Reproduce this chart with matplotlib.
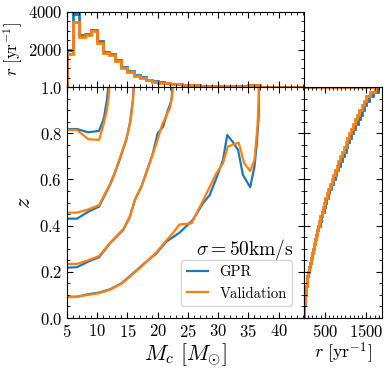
import numpy as np
import matplotlib
matplotlib.use("Agg")
import matplotlib.pyplot as plt
from matplotlib.ticker import AutoMinorLocator, MultipleLocator

plt.rcParams['font.family'] = 'serif'
plt.rcParams['font.serif'] = ['cmr10']
plt.rcParams['mathtext.fontset'] = 'cm'
plt.rcParams['axes.formatter.use_mathtext'] = True

# top histogram: rate per chirp-mass bin
mc_edges = np.arange(5, 45, 1)
r_mc_gpr = [1950, 3900, 2800, 2850, 3050, 2450, 1880, 1780, 1460, 1080,
            830, 660, 520, 390, 320, 260, 220, 180, 150, 120,
            100, 90, 80, 70, 65, 60, 55, 50, 50, 60,
            120, 120, 0, 0, 0, 0, 0, 0, 0]
r_mc_val = [1750, 3450, 2650, 2750, 3000, 2350, 1830, 1720, 1410, 1020,
            780, 610, 480, 350, 290, 240, 200, 170, 140, 115,
            95, 85, 75, 70, 60, 55, 55, 50, 45, 55,
            110, 115, 0, 0, 0, 0, 0, 0, 0]

# right histogram: cumulative rate per redshift bin
z_edges = np.linspace(0, 1, 51)
r_z_val = [2, 6, 12, 20, 30, 40, 52, 65, 80, 98,
           118, 140, 162, 185, 208, 232, 256, 280, 306, 334,
           362, 392, 422, 452, 484, 518, 552, 588, 626, 666,
           706, 746, 788, 830, 872, 914, 958, 1002, 1046, 1092,
           1138, 1186, 1234, 1284, 1334, 1386, 1440, 1500, 1600, 1720]
r_z_gpr = [2, 6, 12, 20, 31, 42, 54, 68, 84, 102,
           123, 146, 169, 193, 217, 242, 267, 293, 320, 349,
           378, 409, 440, 472, 505, 540, 576, 614, 654, 695,
           737, 779, 822, 866, 910, 955, 1001, 1047, 1094, 1142,
           1191, 1241, 1292, 1344, 1397, 1451, 1506, 1565, 1665, 1790]

# contour lines (Mc, z) -- GPR
gpr_c1_mc = [5, 6.65, 8.5, 10.3, 11.1, 11.6, 11.75, 11.8]
gpr_c1_z = [0.818, 0.818, 0.804, 0.81, 0.864, 0.944, 0.98, 1.0]
gpr_c2_mc = [5, 6.65, 8.5, 10.3, 12.1, 12.9, 13.7, 14.8, 15.4, 15.9, 16.0]
gpr_c2_z = [0.43, 0.43, 0.46, 0.482, 0.576, 0.626, 0.684, 0.77, 0.843, 0.944, 1.0]
gpr_c3_mc = [5, 6.65, 8.5, 10.3, 12.1, 14.3, 15.4, 16.2, 17.3, 18.1, 19.2, 20.0,
             20.9, 21.7, 22.3, 22.4]
gpr_c3_z = [0.218, 0.22, 0.244, 0.263, 0.323, 0.381, 0.438, 0.51, 0.568, 0.626,
            0.713, 0.8, 0.828, 0.9, 0.944, 1.0]
gpr_c4_mc = [5, 6.65, 8.5, 10.3, 12.1, 14.0, 15.9, 17.8, 19.8, 21.4, 23.6, 25.8,
             27.5, 28.6, 29.7, 30.8, 31.5, 32.4, 33.3, 34.1, 35.3, 36.0, 36.4,
             36.7, 36.75, 36.75]
gpr_c4_z = [0.092, 0.092, 0.103, 0.11, 0.124, 0.15, 0.193, 0.237, 0.28, 0.33,
            0.369, 0.424, 0.497, 0.532, 0.605, 0.684, 0.792, 0.763, 0.727, 0.619,
            0.566, 0.655, 0.756, 0.871, 0.944, 1.0]

# contour lines (Mc, z) -- Validation
val_c1_mc = [5, 6.65, 8.5, 10.3, 11.1, 11.6, 11.9, 12.0]
val_c1_z = [0.814, 0.814, 0.774, 0.771, 0.843, 0.9, 0.96, 1.0]
val_c2_mc = [5, 6.65, 8.5, 10.3, 12.1, 12.9, 13.7, 14.8, 15.5, 15.95, 16.05]
val_c2_z = [0.456, 0.456, 0.47, 0.488, 0.58, 0.63, 0.69, 0.775, 0.85, 0.95, 1.0]
val_c3_mc = [5, 6.65, 8.5, 10.3, 12.1, 14.3, 15.4, 16.3, 17.3, 18.1, 19.2, 19.8,
             20.7, 22.0, 22.4, 22.5]
val_c3_z = [0.234, 0.234, 0.25, 0.268, 0.325, 0.385, 0.44, 0.515, 0.57, 0.63,
            0.71, 0.756, 0.835, 0.908, 0.96, 1.0]
val_c4_mc = [5, 6.65, 8.5, 10.3, 12.1, 14.0, 15.9, 17.8, 19.8, 21.4, 22.5, 23.6,
             25.6, 27.8, 29.7, 30.8, 31.6, 33.4, 34.3, 35.3, 36.0, 36.5, 36.7, 36.75]
val_c4_z = [0.09, 0.092, 0.1, 0.108, 0.122, 0.148, 0.19, 0.235, 0.285, 0.335,
            0.367, 0.405, 0.41, 0.525, 0.626, 0.67, 0.742, 0.759, 0.67, 0.636,
            0.684, 0.828, 0.944, 1.0]

gpr_lines = [(gpr_c1_mc, gpr_c1_z), (gpr_c2_mc, gpr_c2_z),
             (gpr_c3_mc, gpr_c3_z), (gpr_c4_mc, gpr_c4_z)]
val_lines = [(val_c1_mc, val_c1_z), (val_c2_mc, val_c2_z),
             (val_c3_mc, val_c3_z), (val_c4_mc, val_c4_z)]

c_gpr = '#1f77b4'
c_val = '#ff7f0e'

fig = plt.figure(figsize=(3.9, 3.7), dpi=100)
gs = fig.add_gridspec(2, 2, width_ratios=[237, 78], height_ratios=[75, 231],
                      left=67/390, right=382/390, bottom=1-318/370, top=1-12/370,
                      wspace=0, hspace=0)
ax_top = fig.add_subplot(gs[0, 0])
ax = fig.add_subplot(gs[1, 0], sharex=ax_top)
ax_r = fig.add_subplot(gs[1, 1], sharey=ax)

# main panel
for i, (x, y) in enumerate(gpr_lines):
    ax.plot(x, y, color=c_gpr, lw=1.6, label='GPR' if i == 0 else None)
for i, (x, y) in enumerate(val_lines):
    ax.plot(x, y, color=c_val, lw=1.6, label='Validation' if i == 0 else None)
ax.set_xlim(5, 44.2)
ax.set_ylim(0, 1)
ax.set_xticks(np.arange(5, 45, 5))
ax.set_yticks(np.arange(0, 1.01, 0.2))
ax.xaxis.set_minor_locator(MultipleLocator(1))
ax.yaxis.set_minor_locator(MultipleLocator(0.05))
ax.set_xlabel(r'$M_c\ [M_{\odot}]$', fontsize=16, labelpad=1)
ax.set_ylabel(r'$z$', fontsize=16)
ax.legend(loc='lower right', fontsize=10.5, handlelength=1.4, borderaxespad=0.8)
ax.text(0.75, 0.295, r'$\sigma = 50 \mathrm{km/s}$', transform=ax.transAxes,
        ha='center', va='center', fontsize=14)

# top histogram
ax_top.stairs(r_mc_gpr, mc_edges, color=c_gpr, lw=2, baseline=0)
ax_top.stairs(r_mc_val, mc_edges, color=c_val, lw=2, baseline=0)
ax_top.set_ylim(0, 4000)
ax_top.set_yticks([2000, 4000])
ax_top.yaxis.set_minor_locator(AutoMinorLocator(4))
ax_top.set_ylabel(r'$r\ [\mathrm{yr}^{-1}]$', fontsize=12, labelpad=2)
ax_top.tick_params(labelbottom=False)

# right histogram
ax_r.stairs(r_z_gpr, z_edges, orientation='horizontal', color=c_gpr, lw=2, baseline=0)
ax_r.stairs(r_z_val, z_edges, orientation='horizontal', color=c_val, lw=2, baseline=0)
ax_r.set_xlim(0, 1880)
ax_r.set_xticks([500, 1500])
ax_r.xaxis.set_minor_locator(MultipleLocator(100))
ax_r.set_xlabel(r'$r\ [\mathrm{yr}^{-1}]$', fontsize=13, labelpad=1)
ax_r.tick_params(labelleft=False)

for a in (ax, ax_top, ax_r):
    a.tick_params(which='both', direction='in', top=True, right=True, labelsize=12)
    a.tick_params(which='major', length=4)
    a.tick_params(which='minor', length=2)

fig.savefig('out.png', dpi=100)
